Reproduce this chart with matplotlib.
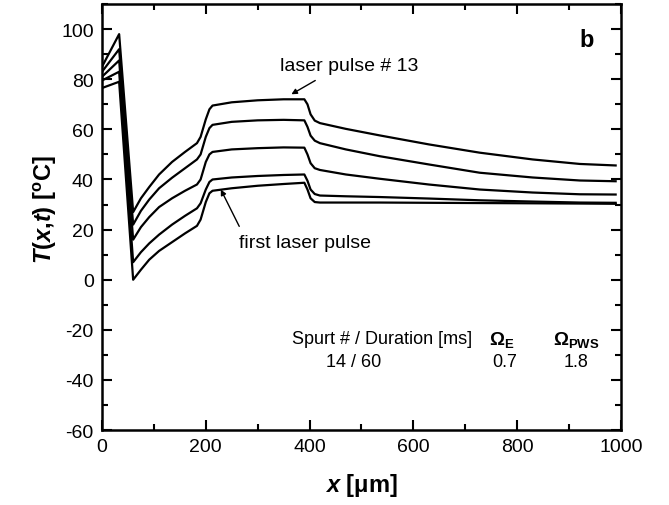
import matplotlib
matplotlib.use("Agg")
import matplotlib.pyplot as plt
from matplotlib.ticker import MultipleLocator

plt.rcParams['font.family'] = ['Liberation Sans', 'DejaVu Sans']
plt.rcParams['axes.unicode_minus'] = False
plt.rcParams['mathtext.fontset'] = 'custom'
plt.rcParams['mathtext.rm'] = 'Liberation Sans'
plt.rcParams['mathtext.it'] = 'Liberation Sans:italic'
plt.rcParams['mathtext.bf'] = 'Liberation Sans:bold'
plt.rcParams['mathtext.bfit'] = 'Liberation Sans:bold:italic'

# depth positions (µm) shared by all temperature profiles
x_um = [0, 33, 60, 75, 91, 110, 135, 160, 183, 190, 200, 207, 213, 250, 300,
        350, 390, 396, 402, 410, 420, 470, 535, 630, 728, 830, 921, 990]

# temperature profiles (°C), from the first laser pulse up to pulse # 13
t_pulse_first = [76.5, 79, 0, 4, 8, 11.5, 15, 18.5, 21.5, 24, 31, 34.5, 35.5, 36.5,
                 37.5, 38.2, 38.7, 36, 32.5, 31, 30.8, 30.8, 30.8, 30.7, 30.6, 30.5,
                 30.4, 30.3]
t_pulse_b = [79.5, 83, 7, 11, 14.5, 18, 22, 25.5, 28.5, 30.5, 36, 39, 40, 40.8,
             41.4, 41.8, 42, 39.5, 36, 34.2, 33.6, 33.3, 33, 32.4, 31.7, 31.2, 30.8,
             30.7]
t_pulse_c = [81, 87.5, 16, 21, 25, 29, 32.5, 35.5, 38, 40, 47, 50, 51, 52, 52.5,
             52.8, 52.7, 50, 46.5, 44.5, 43.8, 42, 40.3, 38, 36, 34.8, 34.1, 34]
t_pulse_d = [83, 92, 22, 27.5, 32, 36.5, 40.7, 44.5, 48, 50, 57, 60.5, 61.8, 63,
             63.6, 63.8, 63.6, 61, 57.5, 55.5, 54.5, 52, 49.3, 46, 42.7, 40.8, 39.6,
             39.3]
t_pulse_13 = [85, 98, 27, 32.5, 37, 42, 47, 51, 54.5, 57, 64, 68, 69.5, 70.8, 71.6,
              72, 72, 70, 66, 63.5, 62.5, 60.2, 57.6, 54, 50.7, 48, 46.2, 45.6]

profiles = [t_pulse_first, t_pulse_b, t_pulse_c, t_pulse_d, t_pulse_13]

x_ticks = [0, 200, 400, 600, 800, 1000]
y_ticks = [-60, -40, -20, 0, 20, 40, 60, 80, 100]

fig = plt.figure(figsize=(6.69, 5.06), dpi=100)
ax = fig.add_axes([0.1525, 0.148, 0.7755, 0.842])

for t in profiles:
    ax.plot(x_um, t, color='black', lw=1.6, solid_joinstyle='round')

ax.set_xlim(0, 1000)
ax.set_ylim(-60, 110)
ax.set_xticks(x_ticks)
ax.set_yticks(y_ticks)
ax.xaxis.set_minor_locator(MultipleLocator(100))
ax.yaxis.set_minor_locator(MultipleLocator(10))
ax.tick_params(which='both', direction='in', top=True, right=True,
               labelsize=14, width=1.5)
ax.tick_params(which='major', length=7, pad=6)
ax.tick_params(which='minor', length=4)
for s in ax.spines.values():
    s.set_linewidth(1.8)

ax.set_xlabel(r'$\mathbfit{x}\ \mathbf{[\mu m]}$', fontsize=17, va='center')
ax.set_ylabel(r'$\mathbfit{T}\mathbf{(}\mathbfit{x}\mathbf{,}\mathbfit{t}\mathbf{)\ [^{o}C]}$',
              fontsize=17, va='center')
ax.xaxis.set_label_coords(0.5, -0.128)
ax.yaxis.set_label_coords(-0.11, 0.519)

ax.text(934, 96, 'b', fontsize=17, fontweight='bold', ha='center', va='center')

arrow = dict(arrowstyle='-|>', color='black', lw=1.0, mutation_scale=8,
             shrinkA=0, shrinkB=0)
ax.text(477, 85.5, 'laser pulse # 13', fontsize=14, ha='center', va='center')
ax.annotate('', xy=(365, 74), xytext=(411, 79.5), arrowprops=arrow)
ax.text(392, 15, 'first laser pulse', fontsize=14, ha='center', va='center')
ax.annotate('', xy=(229, 36), xytext=(264.5, 21.3), arrowprops=arrow)

ax.text(540, -23.5, 'Spurt # / Duration [ms]', fontsize=13, ha='center', va='center')
ax.text(770, -23.5, r'$\mathbf{\Omega_E}$', fontsize=13.5, ha='center', va='center')
ax.text(915, -23.5, r'$\mathbf{\Omega_{PWS}}$', fontsize=13.5, ha='center', va='center')
ax.text(485, -32.5, '14 / 60', fontsize=13, ha='center', va='center')
ax.text(776, -32.5, '0.7', fontsize=13, ha='center', va='center')
ax.text(913, -32.5, '1.8', fontsize=13, ha='center', va='center')

fig.savefig('out.png', dpi=100)
